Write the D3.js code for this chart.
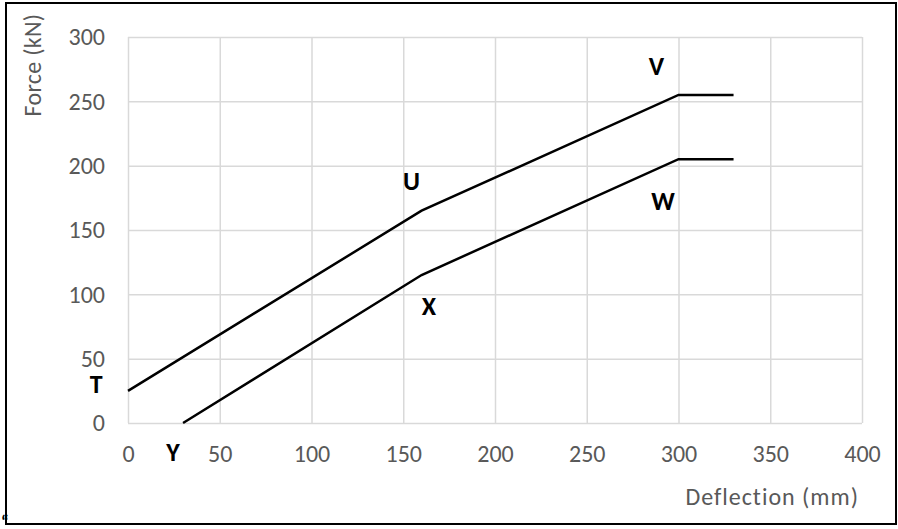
<!DOCTYPE html>
<html>
<head>
    <title>Force vs Deflection</title>
    <script src='https://d3js.org/d3.v7.min.js'></script>
    <style>
        html, body {margin: 0; padding: 0; background: white;}
        body {font-family: Carlito, Calibri, Lato, sans-serif;}
    </style>
</head>
<body>
<div id="vis"></div>
<script>

// values
var upper_x = [0, 160, 300, 330];
var upper_y = [25, 165, 255, 255];
var lower_x = [30, 160, 300, 330];
var lower_y = [0, 115, 205, 205];
var x_ticks = [0, 50, 100, 150, 200, 250, 300, 350, 400];
var y_ticks = [0, 50, 100, 150, 200, 250, 300];
var point_names = ["T", "U", "V", "W", "X", "Y"];
var point_x = [-17.4, 154.5, 288, 291.6, 164, 24.5];
var point_y = [30.5, 188.7, 277.5, 173, 91.4, -22.6];

var width = 898, height = 529;
var margin = {top: 37, bottom: 106, left: 128, right: 36};
var font = 'Carlito, Calibri, Lato, sans-serif';

var svg = d3.select('#vis')
    .append('svg')
    .attr('width', width)
    .attr('height', height);

// outer border
svg.append('rect')
    .attr('x', 6).attr('y', 3)
    .attr('width', 890).attr('height', 521)
    .attr('fill', 'none').attr('stroke', 'black').attr('stroke-width', 2);

// stray quote mark at the bottom left corner of the original
svg.append('text').attr('x', 1).attr('y', 528)
    .attr('font-size', 18).attr('font-weight', 'bold').attr('fill', 'black').text('\u201C');

var g = svg.append('g')
    .attr('transform', 'translate(' + margin.left + ',' + margin.top + ')');
var w = width - margin.left - margin.right;
var h = height - margin.top - margin.bottom;

var x_scale = d3.scaleLinear().domain([0, 400]).range([0, w]);
var y_scale = d3.scaleLinear().domain([0, 300]).range([h, 0]);

// grid
g.append('g').call(d3.axisLeft(y_scale).tickValues(y_ticks).tickSize(-w).tickFormat(''))
    .call(function(a) { a.select('.domain').remove(); })
    .selectAll('line').attr('stroke', '#d9d9d9').attr('stroke-width', 1.5);
g.append('g').attr('transform', 'translate(0,' + h + ')')
    .call(d3.axisBottom(x_scale).tickValues(x_ticks).tickSize(-h).tickFormat(''))
    .call(function(a) { a.select('.domain').remove(); })
    .selectAll('line').attr('stroke', '#d9d9d9').attr('stroke-width', 1.5);

// tick labels
var y_axis = g.append('g').call(d3.axisLeft(y_scale).tickValues(y_ticks).tickSize(0).tickPadding(23));
y_axis.select('.domain').remove();
y_axis.selectAll('text').attr('font-size', 24).attr('fill', '#595959').attr('font-family', font);
var x_axis = g.append('g').attr('transform', 'translate(0,' + h + ')')
    .call(d3.axisBottom(x_scale).tickValues(x_ticks).tickSize(0).tickPadding(22));
x_axis.select('.domain').remove();
x_axis.selectAll('text').attr('font-size', 24).attr('fill', '#595959').attr('font-family', font);

// axis titles
svg.append('text')
    .attr('transform', 'translate(41,65) rotate(-90)')
    .attr('text-anchor', 'middle')
    .attr('font-size', 24).attr('fill', '#595959')
    .attr('letter-spacing', 0.3)
    .text('Force (kN)');
svg.append('text')
    .attr('x', 859).attr('y', 505)
    .attr('text-anchor', 'end')
    .attr('font-size', 24).attr('fill', '#595959')
    .attr('letter-spacing', 1)
    .text('Deflection (mm)');

// lines
var line = d3.line().x(function(d) { return x_scale(d[0]); }).y(function(d) { return y_scale(d[1]); });
[d3.zip(upper_x, upper_y), d3.zip(lower_x, lower_y)].forEach(function(pts) {
    g.append('path').datum(pts)
        .attr('d', line)
        .attr('fill', 'none')
        .attr('stroke', 'black')
        .attr('stroke-width', 2.5);
});

// point labels
g.selectAll('.pt').data(point_names).enter().append('text')
    .attr('class', 'pt')
    .attr('x', function(d, i) { return x_scale(point_x[i]); })
    .attr('y', function(d, i) { return y_scale(point_y[i]); })
    .attr('dy', '0.36em')
    .attr('text-anchor', 'middle')
    .attr('font-size', 26).attr('font-weight', 'bold').attr('fill', 'black')
    .text(function(d) { return d; });

</script>
</body>
</html>
